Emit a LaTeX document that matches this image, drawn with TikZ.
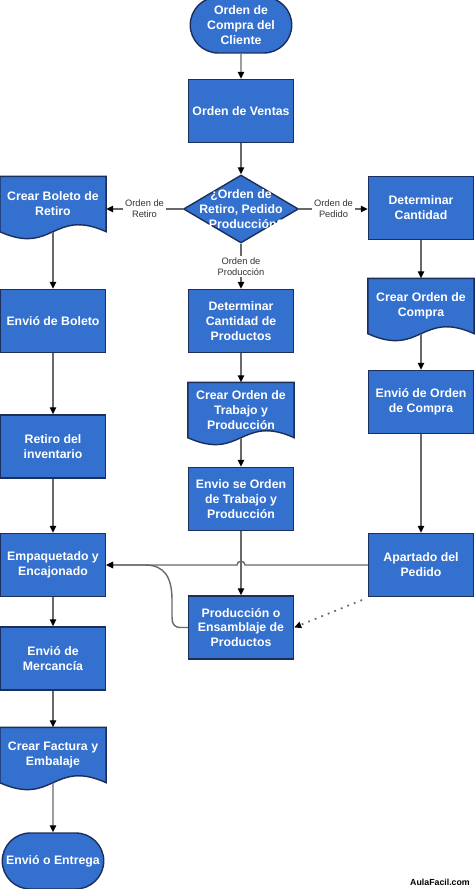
\documentclass[tikz,border=0pt]{standalone}
\usepackage{fontspec}
\setmainfont{Liberation Sans}
\usetikzlibrary{shapes.geometric, shapes.misc, arrows.meta, calc, backgrounds}
\definecolor{boxblue}{RGB}{52,112,206}
\definecolor{boxline}{RGB}{28,46,92}
\definecolor{linegray}{RGB}{105,105,105}
\newcommand{\boxfont}{\fontsize{7}{8.5}\selectfont\bfseries}
% rectangle with a wavy bottom for the document nodes
\newcommand{\docshape}[1]{%
	\filldraw[draw=boxline, fill=boxblue, line width=0.8pt] (#1.north west) -- (#1.north east) -- (#1.south east)
	.. controls ($(#1.south)+(0,-24)$) and ($(#1.south)+(0,24)$) .. (#1.south west) -- cycle;}
\tikzset{
	process/.style={rectangle, draw=boxline, fill=boxblue, line width=0.8pt, minimum width=2.1cm, minimum height=1.26cm, inner sep=1pt, text=white, font=\boxfont, align=center}, % plain steps
	terminal/.style={process, rounded rectangle, minimum height=1.12cm}, % start and end
	docnode/.style={process, draw=none, fill=none, minimum height=1.08cm}, % shape drawn by \docshape
	decision/.style={diamond, draw=boxline, fill=boxblue, line width=0.8pt, minimum width=2.3cm, minimum height=1.36cm, inner sep=0pt},
	flow/.style={draw=linegray, line width=0.8pt, -{Triangle[length=4pt, width=3.6pt, color=black]}},
	edgelabel/.style={fill=white, text=black!80, font=\fontsize{5.3}{6.3}\selectfont, align=center, inner sep=1pt},
}
\begin{document}
\begin{tikzpicture}[x=0.02cm, y=-0.02cm]
	\useasboundingbox (0,0) rectangle (474,889);
	% Center column
	\node[terminal] (inicio) at (241,25) {Orden de\\Compra del\\Cliente};
	\node[process] (ventas) at (241,111) {Orden de Ventas};
	\node[decision] (dec) at (241,209) {};
	\node[text=white, font=\boxfont, align=center] (dectxt) at (dec) {¿Orden de\\Retiro, Pedido\\o Producción?};
	\node[process] (detprod) at (241,321) {Determinar\\Cantidad de\\Productos};
	\node[docnode] (ordtrab) at (241,410) {Crear Orden de\\Trabajo y\\Producción};
	\node[process] (envtrab) at (241,499) {Envio se Orden\\de Trabajo y\\Producción};
	\node[process] (prod) at (241,627.5) {Producción o\\Ensamblaje de\\Productos};
	
	% Left column
	\node[docnode] (boleto) at (53,204) {Crear Boleto de\\Retiro};
	\node[process] (envboleto) at (53,321) {Envió de Boleto};
	\node[process] (retiro) at (53,446.5) {Retiro del\\inventario};
	\node[process] (empa) at (53,565) {Empaquetado y\\Encajonado};
	\node[process] (envmerc) at (53,658.5) {Envió de\\Mercancía};
	\node[docnode] (factura) at (53,755) {Crear Factura y\\Embalaje};
	\node[terminal] (entrega) at (53,861) {Envió o Entrega};
	
	% Right column
	\node[process] (cant) at (421,208) {Determinar\\Cantidad};
	\node[docnode] (compra) at (421,306) {Crear Orden de\\Compra};
	\node[process] (envcompra) at (421,402) {Envió de Orden\\de Compra};
	\node[process] (apart) at (421,565) {Apartado del\\Pedido};
	
	\node[font=\fontsize{5}{6}\selectfont\bfseries, text=black] (marca) at (440,882) {AulaFacil.com};
	\coordinate (dotstart) at (362,600);
	
	% Document shapes
	\begin{scope}[on background layer]
		\docshape{boleto}
		\docshape{ordtrab}
		\docshape{compra}
		\docshape{factura}
	\end{scope}
	
	% Transitions
	\draw[flow] (inicio) -- (ventas);
	\draw[flow] (ventas) -- (dec);
	\draw[flow] (dec.west) -- node[edgelabel] {Orden de\\Retiro} (dec.west -| boleto.east);
	\draw[flow] (dec.east) -- node[edgelabel] {Orden de\\Pedido} (dec.east -| cant.west);
	\draw[flow] (dec.south) -- node[edgelabel] {Orden de\\Producción} (detprod.north);
	
	\draw[flow] (boleto.south) -- (envboleto);
	\draw[flow] (envboleto) -- (retiro);
	\draw[flow] (retiro) -- (empa);
	\draw[flow] (empa) -- (envmerc);
	\draw[flow] (envmerc) -- (factura);
	\draw[flow] (factura.south) -- (entrega);
	
	\draw[flow] (detprod) -- (ordtrab);
	\draw[flow] (ordtrab.south) -- (envtrab);
	\draw[flow] (envtrab) -- (prod);
	
	\draw[flow] (cant) -- (compra);
	\draw[flow] (compra.south) -- (envcompra);
	\draw[flow] (envcompra) -- (apart);
	
	\draw[flow] (apart.west) -- (245,565) .. controls (245,560) and (237,560) .. (237,565) -- (empa.east);
	\draw[flow] (prod.west) -- (181,627.5) .. controls (174,627.5) and (172,624) .. (172,617) -- (172,600)
		.. controls (172,578) and (165,565) .. (145,565) -- (empa.east);
	\draw[flow, line width=1pt, dash pattern=on 1pt off 3pt] (dotstart) -- (prod.east);
\end{tikzpicture}
\end{document}
